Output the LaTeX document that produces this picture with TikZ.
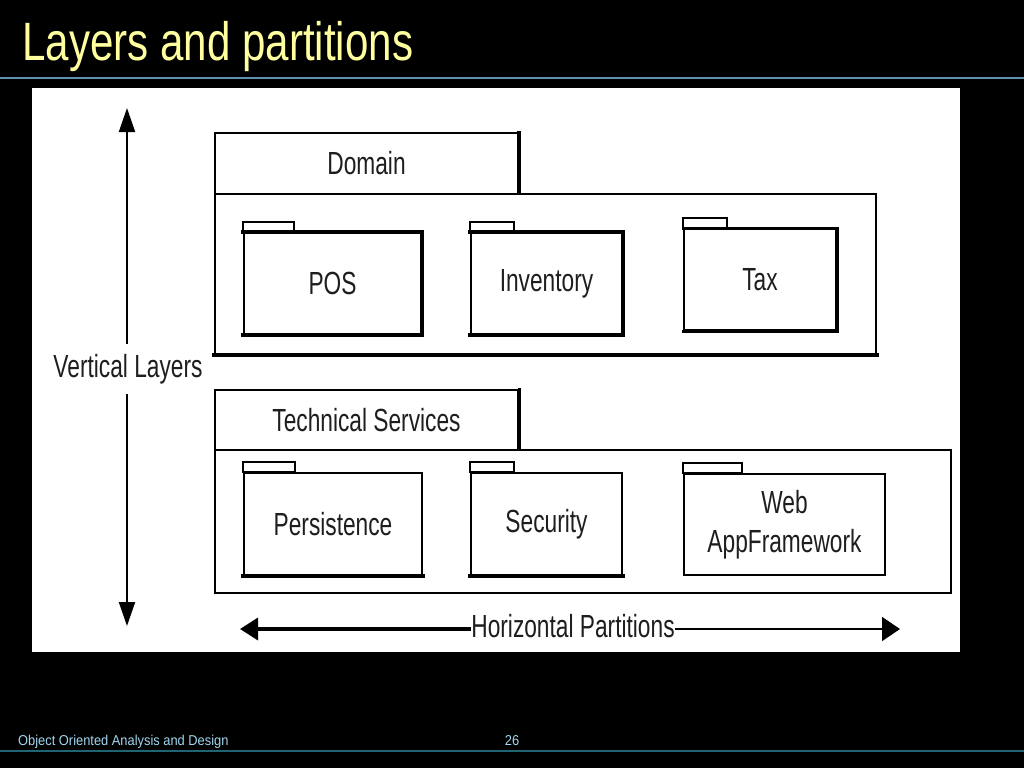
\documentclass[tikz,border=0pt]{standalone}
\usepackage{fontspec}
\usetikzlibrary{arrows.meta}
\setmainfont{Liberation Sans}
\newfontfamily\dfont[FakeStretch=0.71]{Liberation Sans}
\newfontfamily\tfont[FakeStretch=0.78]{Liberation Sans}
\newfontfamily\ffont[FakeStretch=0.9]{Liberation Sans}
\definecolor{titlecol}{RGB}{255,255,160}
\definecolor{rulecol}{RGB}{95,145,175}
\definecolor{footrule}{RGB}{30,100,115}
\definecolor{footcol}{RGB}{160,215,240}
\definecolor{inkcol}{RGB}{30,30,30}
\begin{document}
\begin{tikzpicture}[x=1pt,y=-1pt,
  box/.style={draw=black, line width=2pt, fill=white, inner sep=0pt, text=inkcol,
    font=\dfont\fontsize{32}{39}\selectfont, align=center},
  tabline/.style={draw=black, line width=2pt, fill=white},
  thick edge/.style={draw=black, line width=4pt, line cap=rect},
  arr/.style={draw=black, line width=2pt},
  lbl/.style={fill=white, text=inkcol, font=\dfont\fontsize{32}{36}\selectfont}
]
\useasboundingbox (0,0) rectangle (1024,768);
\fill[black] (0,0) rectangle (1024,768);

% title and rules
\node[anchor=base west, inner sep=0pt, text=titlecol, font=\tfont\fontsize{54}{58}\selectfont] (title) at (22,60) {Layers and partitions};
\coordinate (r1a) at (0,78); \coordinate (r1b) at (1024,78);
\draw[rulecol, line width=2pt] (r1a) -- (r1b);
\coordinate (r2a) at (0,751); \coordinate (r2b) at (1024,751);
\draw[footrule, line width=2pt] (r2a) -- (r2b);
\node[anchor=base west, inner sep=0pt, text=footcol, font=\ffont\fontsize{14.3}{16}\selectfont] (foot) at (18,745) {Object Oriented Analysis and Design};
\node[anchor=base, inner sep=0pt, text=footcol, font=\ffont\fontsize{14.3}{16}\selectfont] (page) at (512,745) {26};

% white panel
\fill[white] (32,88) rectangle (960,652);

% Domain layer
\node[box, minimum width=661, minimum height=160] (dombody) at (545.5,274) {};
\node[box, minimum width=303, minimum height=61] (domtab) at (366.5,163.5) {Domain};
\draw[thick edge] (dombody.south west) -- (dombody.south east);
\draw[thick edge, line cap=butt] ([yshift=1pt]domtab.north east) -- (domtab.south east);

% Domain packages
\node[box, minimum width=177, minimum height=101] (pos) at (332.5,283.5) {POS};
\draw[tabline] (pos.north west) rectangle ++(51,-10);
\draw[thick edge] (pos.north west) -- (pos.north east) -- (pos.south east) -- (pos.south west);

\node[box, minimum width=151, minimum height=101] (inv) at (546.5,283.5) {Inventory};
\draw[tabline] (inv.north west) rectangle ++(44,-10);
\draw[thick edge] (inv.north west) -- (inv.north east) -- (inv.south east) -- (inv.south west);

\node[box, minimum width=152, minimum height=101] (tax) at (760,279.5) {Tax};
\draw[tabline] (tax.north west) rectangle ++(44,-10);
\draw[thick edge, line width=3pt] (tax.north west) -- (tax.north east) -- (tax.south east) -- (tax.south west);

% Technical services layer
\node[box, minimum width=736, minimum height=143] (tecbody) at (583,521.5) {};
\node[box, minimum width=303, minimum height=60] (tectab) at (366.5,420) {Technical Services};
\draw[thick edge, line width=3pt, line cap=butt] ([yshift=1pt]tectab.north east) -- (tectab.south east);

\node[box, minimum width=178, minimum height=102] (pers) at (333,524) {Persistence};
\draw[tabline] (pers.north west) rectangle ++(52,-10);
\draw[thick edge, line width=3.5pt] (pers.south west) -- (pers.south east);

\node[box, minimum width=151, minimum height=102] (sec) at (546.5,524) {Security};
\draw[tabline] (sec.north west) rectangle ++(44,-10);
\draw[thick edge, line width=3.5pt] (sec.south west) -- (sec.south east);

\node[box, minimum width=201, minimum height=101, line width=1.6pt] (web) at (784.5,524.5) {Web\\AppFramework};
\draw[tabline, line width=1.6pt] (web.north west) rectangle ++(59,-10);

% vertical arrow
\node[lbl, inner xsep=1pt, inner ysep=10pt] (vl) at (128,369) {Vertical Layers};
\coordinate (vt) at (127,108);
\coordinate (vb) at (127,626);
\draw[arr, -{Triangle[length=24pt,width=16pt]}] (vl.north -| vt) -- (vt);
\draw[arr, -{Triangle[length=24pt,width=16pt]}] (vl.south -| vb) -- (vb);

% horizontal arrow
\node[lbl, inner sep=0pt] (hp) at (573,626) {Horizontal Partitions};
\coordinate (hl) at (240,629);
\coordinate (hr) at (900,629);
\draw[arr, line width=3.5pt, -{Triangle[length=18pt,width=22pt]}] (hp.west |- hl) -- (hl);
\draw[arr, line width=1.6pt, -{Triangle[length=18pt,width=24pt]}] (hp.east |- hr) -- (hr);
\end{tikzpicture}
\end{document}
